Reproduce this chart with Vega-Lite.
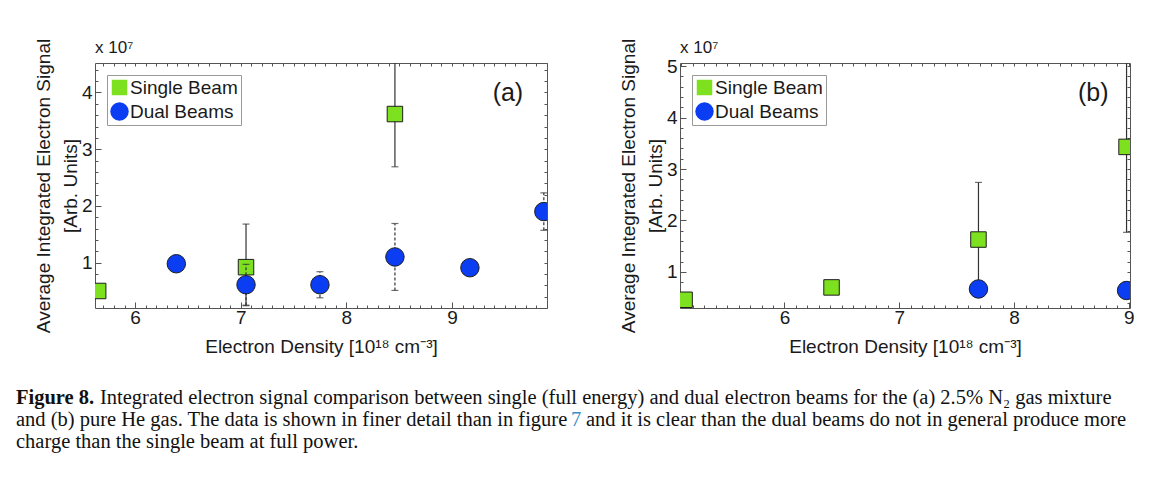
{
  "$schema": "https://vega.github.io/schema/vega-lite/v6.json",
  "background": "white",
  "padding": {"left": 16, "top": 37, "right": 0, "bottom": 0},
  "datasets": {
    "a": [
      {"x": 5.65, "y": 0.5, "lo": null, "hi": null, "beam": "Single Beam"},
      {"x": 7.05, "y": 0.92, "lo": 0.24, "hi": 1.68, "beam": "Single Beam"},
      {"x": 8.46, "y": 3.62, "lo": 2.69, "hi": 4.55, "beam": "Single Beam"},
      {"x": 6.39, "y": 0.98, "lo": null, "hi": null, "beam": "Dual Beams"},
      {"x": 7.05, "y": 0.61, "lo": 0.25, "hi": 0.97, "beam": "Dual Beams"},
      {"x": 7.75, "y": 0.61, "lo": 0.38, "hi": 0.84, "beam": "Dual Beams"},
      {"x": 8.46, "y": 1.1, "lo": 0.51, "hi": 1.69, "beam": "Dual Beams"},
      {"x": 9.17, "y": 0.91, "lo": null, "hi": null, "beam": "Dual Beams"},
      {"x": 9.87, "y": 1.9, "lo": 1.57, "hi": 2.23, "beam": "Dual Beams"}
    ],
    "b": [
      {"x": 5.13, "y": 0.46, "lo": 0.36, "hi": 0.56, "beam": "Single Beam"},
      {"x": 6.41, "y": 0.7, "lo": null, "hi": null, "beam": "Single Beam"},
      {"x": 7.69, "y": 1.63, "lo": 0.55, "hi": 2.74, "beam": "Single Beam"},
      {"x": 8.98, "y": 3.43, "lo": 1.77, "hi": 5.09, "beam": "Single Beam"},
      {"x": 7.69, "y": 0.67, "lo": null, "hi": null, "beam": "Dual Beams"},
      {"x": 8.98, "y": 0.64, "lo": 0.5, "hi": 0.8, "beam": "Dual Beams"}
    ],
    "caption": [
      {"line": 1, "part": "bold", "text": "Figure 8."},
      {"line": 1, "part": "rest1", "text": "Integrated electron signal comparison between single (full energy) and dual electron beams for the (a) 2.5% N₂ gas mixture"},
      {"line": 2, "part": "plain", "text": "and (b) pure He gas. The data is shown in finer detail than in figure"},
      {"line": 2, "part": "link", "text": "7"},
      {"line": 2, "part": "rest2", "text": "and it is clear than the dual beams do not in general produce more"},
      {"line": 3, "part": "plain", "text": "charge than the single beam at full power."}
    ]
  },
  "vconcat": [
    {
      "hconcat": [
        {
          "width": 452,
          "height": 245,
          "title": {"text": "x 10⁷", "anchor": "start", "frame": "group", "fontSize": 17, "font": "Liberation Sans", "fontWeight": "normal", "offset": -19, "color": "#1a1a1a"},
          "data": {"name": "a"},
          "layer": [
            {
              "transform": [{"filter": "datum.beam === 'Single Beam' && datum.lo != null"}],
              "mark": {"type": "errorbar", "ticks": true, "color": "#333333", "thickness": 1.2, "size": 7, "clip": true},
              "encoding": {
                "x": {"field": "x", "type": "quantitative", "scale": {"domain": [5.62, 9.9], "nice": false, "zero": false},
                  "axis": {"orient": "bottom", "values": [6, 7, 8, 9], "title": "Electron Density [10¹⁸ cm⁻³]", "tickSize": -6, "labelPadding": 6, "titlePadding": 10}},
                "y": {"field": "lo", "type": "quantitative", "scale": {"domain": [0.2, 4.52], "nice": false, "zero": false},
                  "axis": {"orient": "left", "values": [1, 2, 3, 4], "title": ["Average Integrated Electron Signal", "[Arb. Units]"], "titleLineHeight": 27, "tickSize": -6, "labelPadding": 9, "titlePadding": 1}},
                "y2": {"field": "hi"}
              }
            },
            {
              "transform": [{"filter": "datum.beam === 'Single Beam'"}],
              "mark": {"type": "point", "filled": true, "opacity": 1, "stroke": "#1e1e1e", "strokeWidth": 1, "clip": true},
              "encoding": {
                "x": {"field": "x", "type": "quantitative", "axis": null},
                "y": {"field": "y", "type": "quantitative", "axis": null},
                "shape": {"field": "beam", "type": "nominal", "title": null, "scale": {"domain": ["Single Beam", "Dual Beams"], "range": ["square", "circle"]}},
                "color": {"field": "beam", "type": "nominal", "title": null, "scale": {"domain": ["Single Beam", "Dual Beams"], "range": ["#7ee11f", "#0b3df2"]}},
                "size": {"field": "beam", "type": "nominal", "title": null, "scale": {"domain": ["Single Beam", "Dual Beams"], "range": [240, 340]}}
              }
            },
            {
              "transform": [{"filter": "datum.beam === 'Dual Beams' && datum.lo != null"}],
              "mark": {"type": "errorbar", "ticks": true, "rule": {"strokeDash": [3, 2]}, "color": "#333333", "thickness": 1.2, "size": 7, "clip": true},
              "encoding": {
                "x": {"field": "x", "type": "quantitative",
                  "axis": {"orient": "bottom", "values": [5.7,5.8,5.9,6,6.1,6.2,6.3,6.4,6.5,6.6,6.7,6.8,6.9,7,7.1,7.2,7.3,7.4,7.5,7.6,7.7,7.8,7.9,8,8.1,8.2,8.3,8.4,8.5,8.6,8.7,8.8,8.9,9,9.1,9.2,9.3,9.4,9.5,9.6,9.7,9.8,9.9], "labels": false, "title": null, "tickSize": -3}},
                "y": {"field": "lo", "type": "quantitative",
                  "axis": {"orient": "left", "values": [0.4,0.6,0.8,1,1.2,1.4,1.6,1.8,2,2.2,2.4,2.6,2.8,3,3.2,3.4,3.6,3.8,4,4.2,4.4], "labels": false, "title": null, "tickSize": -3}},
                "y2": {"field": "hi"}
              }
            },
            {
              "transform": [{"filter": "datum.beam === 'Dual Beams'"}],
              "mark": {"type": "point", "filled": true, "opacity": 1, "stroke": "#1e1e1e", "strokeWidth": 1, "clip": true},
              "encoding": {
                "x": {"field": "x", "type": "quantitative", "axis": null},
                "y": {"field": "y", "type": "quantitative", "axis": null},
                "shape": {"field": "beam", "type": "nominal", "title": null},
                "color": {"field": "beam", "type": "nominal", "title": null},
                "size": {"field": "beam", "type": "nominal", "title": null}
              }
            },
            {
              "data": {"values": [{"x": 9.53, "y": 3.99, "label": "(a)"}]},
              "mark": {"type": "text", "font": "Liberation Sans", "fontSize": 25, "color": "#1a1a1a", "align": "center", "baseline": "middle"},
              "encoding": {
                "x": {"field": "x", "type": "quantitative",
                  "axis": {"orient": "top", "values": [5.7,5.8,5.9,6,6.1,6.2,6.3,6.4,6.5,6.6,6.7,6.8,6.9,7,7.1,7.2,7.3,7.4,7.5,7.6,7.7,7.8,7.9,8,8.1,8.2,8.3,8.4,8.5,8.6,8.7,8.8,8.9,9,9.1,9.2,9.3,9.4,9.5,9.6,9.7,9.8,9.9], "labels": false, "title": null, "tickSize": -3}},
                "y": {"field": "y", "type": "quantitative",
                  "axis": {"orient": "right", "values": [0.4,0.6,0.8,1,1.2,1.4,1.6,1.8,2,2.2,2.4,2.6,2.8,3,3.2,3.4,3.6,3.8,4,4.2,4.4], "labels": false, "title": null, "tickSize": -3}},
                "text": {"field": "label"}
              }
            }
          ]
        },
        {
          "width": 450,
          "height": 245,
          "title": {"text": "x 10⁷", "anchor": "start", "frame": "group", "fontSize": 17, "font": "Liberation Sans", "fontWeight": "normal", "offset": -19, "color": "#1a1a1a"},
          "data": {"name": "b"},
          "layer": [
            {
              "transform": [{"filter": "datum.beam === 'Single Beam' && datum.lo != null"}],
              "mark": {"type": "errorbar", "ticks": true, "color": "#333333", "thickness": 1.2, "size": 7, "clip": true},
              "encoding": {
                "x": {"field": "x", "type": "quantitative", "scale": {"domain": [5.09, 9.01], "nice": false, "zero": false},
                  "axis": {"orient": "bottom", "values": [6, 7, 8, 9], "title": "Electron Density [10¹⁸ cm⁻³]", "tickSize": -6, "labelPadding": 6, "titlePadding": 10}},
                "y": {"field": "lo", "type": "quantitative", "scale": {"domain": [0.3, 5.06], "nice": false, "zero": false},
                  "axis": {"orient": "left", "values": [1, 2, 3, 4, 5], "title": ["Average Integrated Electron Signal", "[Arb. Units]"], "titleLineHeight": 27, "tickSize": -6, "labelPadding": 9, "titlePadding": 1}},
                "y2": {"field": "hi"}
              }
            },
            {
              "transform": [{"filter": "datum.beam === 'Single Beam'"}],
              "mark": {"type": "point", "filled": true, "opacity": 1, "stroke": "#1e1e1e", "strokeWidth": 1, "clip": true},
              "encoding": {
                "x": {"field": "x", "type": "quantitative", "axis": null},
                "y": {"field": "y", "type": "quantitative", "axis": null},
                "shape": {"field": "beam", "type": "nominal", "title": null, "scale": {"domain": ["Single Beam", "Dual Beams"], "range": ["square", "circle"]}},
                "color": {"field": "beam", "type": "nominal", "title": null, "scale": {"domain": ["Single Beam", "Dual Beams"], "range": ["#7ee11f", "#0b3df2"]}},
                "size": {"field": "beam", "type": "nominal", "title": null, "scale": {"domain": ["Single Beam", "Dual Beams"], "range": [240, 340]}}
              }
            },
            {
              "transform": [{"filter": "datum.beam === 'Dual Beams' && datum.lo != null"}],
              "mark": {"type": "errorbar", "ticks": true, "rule": {"strokeDash": [3, 2]}, "color": "#333333", "thickness": 1.2, "size": 7, "clip": true},
              "encoding": {
                "x": {"field": "x", "type": "quantitative",
                  "axis": {"orient": "bottom", "values": [5.1,5.2,5.3,5.4,5.5,5.6,5.7,5.8,5.9,6,6.1,6.2,6.3,6.4,6.5,6.6,6.7,6.8,6.9,7,7.1,7.2,7.3,7.4,7.5,7.6,7.7,7.8,7.9,8,8.1,8.2,8.3,8.4,8.5,8.6,8.7,8.8,8.9,9], "labels": false, "title": null, "tickSize": -3}},
                "y": {"field": "lo", "type": "quantitative",
                  "axis": {"orient": "left", "values": [0.4,0.6,0.8,1,1.2,1.4,1.6,1.8,2,2.2,2.4,2.6,2.8,3,3.2,3.4,3.6,3.8,4,4.2,4.4,4.6,4.8,5], "labels": false, "title": null, "tickSize": -3}},
                "y2": {"field": "hi"}
              }
            },
            {
              "transform": [{"filter": "datum.beam === 'Dual Beams'"}],
              "mark": {"type": "point", "filled": true, "opacity": 1, "stroke": "#1e1e1e", "strokeWidth": 1, "clip": true},
              "encoding": {
                "x": {"field": "x", "type": "quantitative", "axis": null},
                "y": {"field": "y", "type": "quantitative", "axis": null},
                "shape": {"field": "beam", "type": "nominal", "title": null},
                "color": {"field": "beam", "type": "nominal", "title": null},
                "size": {"field": "beam", "type": "nominal", "title": null}
              }
            },
            {
              "data": {"values": [{"x": 8.69, "y": 4.47, "label": "(b)"}]},
              "mark": {"type": "text", "font": "Liberation Sans", "fontSize": 25, "color": "#1a1a1a", "align": "center", "baseline": "middle"},
              "encoding": {
                "x": {"field": "x", "type": "quantitative",
                  "axis": {"orient": "top", "values": [5.1,5.2,5.3,5.4,5.5,5.6,5.7,5.8,5.9,6,6.1,6.2,6.3,6.4,6.5,6.6,6.7,6.8,6.9,7,7.1,7.2,7.3,7.4,7.5,7.6,7.7,7.8,7.9,8,8.1,8.2,8.3,8.4,8.5,8.6,8.7,8.8,8.9,9], "labels": false, "title": null, "tickSize": -3}},
                "y": {"field": "y", "type": "quantitative",
                  "axis": {"orient": "right", "values": [0.4,0.6,0.8,1,1.2,1.4,1.6,1.8,2,2.2,2.4,2.6,2.8,3,3.2,3.4,3.6,3.8,4,4.2,4.4,4.6,4.8,5], "labels": false, "title": null, "tickSize": -3}},
                "text": {"field": "label"}
              }
            }
          ]
        }
      ],
      "spacing": 70,
      "resolve": {
        "scale": {"color": "independent", "shape": "independent", "size": "independent"},
        "legend": {"color": "independent", "shape": "independent", "size": "independent"}
      }
    },
    {
      "width": 1030,
      "height": 44,
      "view": {"stroke": null},
      "data": {"name": "caption"},
      "encoding": {
        "x": {"datum": 0, "type": "quantitative", "scale": {"domain": [0, 1]}, "axis": null},
        "y": {"field": "line", "type": "ordinal", "scale": {"type": "point", "padding": 0}, "axis": null},
        "text": {"field": "text"}
      },
      "layer": [
        {"transform": [{"filter": "datum.part === 'bold'"}], "mark": {"type": "text", "align": "left", "baseline": "middle", "font": "Liberation Serif", "fontSize": 20.5, "fontWeight": "bold", "color": "#111111", "dx": -79}},
        {"transform": [{"filter": "datum.part === 'rest1'"}], "mark": {"type": "text", "align": "left", "baseline": "middle", "font": "Liberation Serif", "fontSize": 20.5, "color": "#111111", "dx": 5}},
        {"transform": [{"filter": "datum.part === 'plain'"}], "mark": {"type": "text", "align": "left", "baseline": "middle", "font": "Liberation Serif", "fontSize": 20.5, "color": "#111111", "dx": -79}},
        {"transform": [{"filter": "datum.part === 'link'"}], "mark": {"type": "text", "align": "left", "baseline": "middle", "font": "Liberation Serif", "fontSize": 20.5, "color": "#3a8cc4", "dx": 476}},
        {"transform": [{"filter": "datum.part === 'rest2'"}], "mark": {"type": "text", "align": "left", "baseline": "middle", "font": "Liberation Serif", "fontSize": 20.5, "color": "#111111", "dx": 491}}
      ]
    }
  ],
  "spacing": 31,
  "config": {
    "view": {"stroke": "#555555", "strokeWidth": 1},
    "axis": {"grid": false, "domain": false, "tickColor": "#555555", "tickWidth": 1, "labelFont": "Liberation Sans", "labelFontSize": 19, "labelColor": "#1a1a1a", "titleFont": "Liberation Sans", "titleFontSize": 19, "titleFontWeight": "normal", "titleColor": "#1a1a1a"},
    "legend": {"orient": "top-left", "offset": 12, "strokeColor": "#999999", "fillColor": "white", "padding": 3, "labelFont": "Liberation Sans", "labelFontSize": 19, "labelColor": "#1a1a1a", "labelOffset": 1, "symbolStrokeWidth": 0, "rowPadding": 4, "cornerRadius": 0}
  }
}
